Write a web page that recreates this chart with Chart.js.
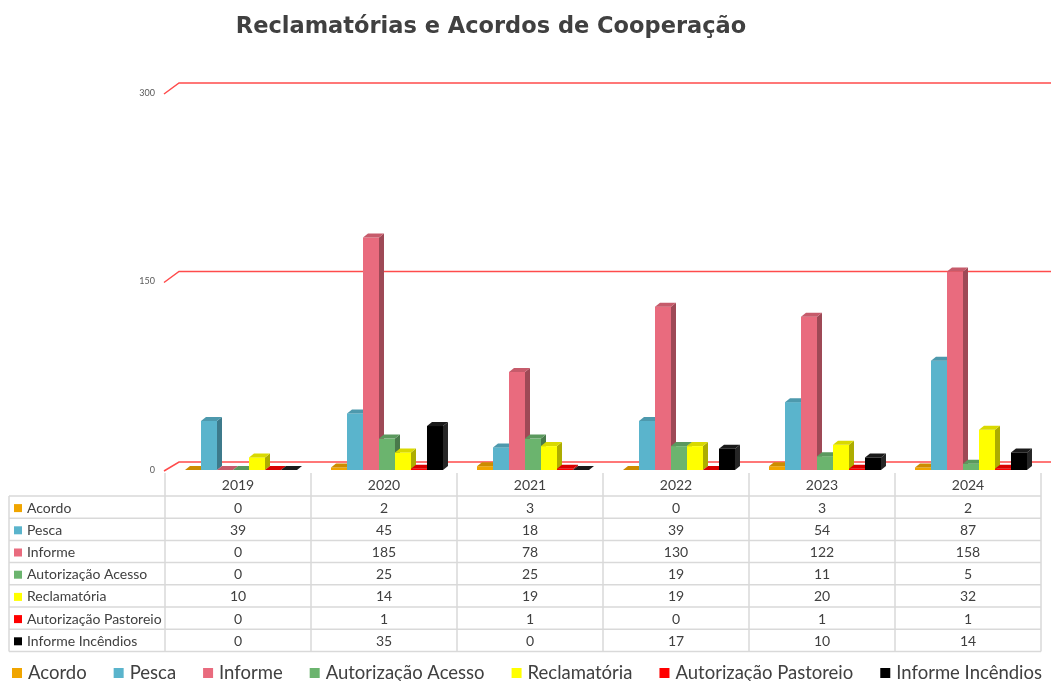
<!DOCTYPE html>
<html>
<head>
<meta charset="utf-8">
<script src="https://cdn.jsdelivr.net/npm/chart.js@4.4.1/dist/chart.umd.min.js"></script>
<style>
  html, body { margin: 0; padding: 0; background: #fff; }
</style>
</head>
<body>
<canvas id="chart" width="1051" height="681"></canvas>
<script>
const years = ['2019', '2020', '2021', '2022', '2023', '2024'];

const acordo = [0, 2, 3, 0, 3, 2];
const pesca = [39, 45, 18, 39, 54, 87];
const informe = [0, 185, 78, 130, 122, 158];
const autorizacaoAcesso = [0, 25, 25, 19, 11, 5];
const reclamatoria = [10, 14, 19, 19, 20, 32];
const autorizacaoPastoreio = [0, 1, 1, 0, 1, 1];
const informeIncendios = [0, 35, 0, 17, 10, 14];

const seriesNames = ['Acordo', 'Pesca', 'Informe', 'Autorização Acesso', 'Reclamatória', 'Autorização Pastoreio', 'Informe Incêndios'];
const seriesColors = ['#F0A500', '#5AB4CC', '#E96B7E', '#6BB46E', '#FFFF00', '#FF0000', '#000000'];
const yTicks = [0, 150, 300];

const allSeries = [acordo, pesca, informe, autorizacaoAcesso, reclamatoria, autorizacaoPastoreio, informeIncendios];

const TEXT = '#404040';
const FONT = 'Lato, "Open Sans", sans-serif';

// darken a hex colour by factor f
const shade = (hex, f) => {
    const n = parseInt(hex.slice(1), 16);
    const r = Math.round(((n >> 16) & 255) * f);
    const g = Math.round(((n >> 8) & 255) * f);
    const b = Math.round((n & 255) * f);
    return `rgb(${r},${g},${b})`;
};

// red grid lines on the back wall, with the little diagonal to the label
const wallGrid = {
    id: 'wallGrid',
    beforeDatasetsDraw(chart) {
        const {ctx, scales: {y}} = chart;
        ctx.save();
        ctx.strokeStyle = '#FF4B4B';
        ctx.lineWidth = 1.5;
        yTicks.forEach(v => {
            const yp = y.getPixelForValue(v);
            const back = v === 0 ? 8 : 10;
            ctx.beginPath();
            ctx.moveTo(164, yp + 1);
            ctx.lineTo(179, yp - back);
            ctx.lineTo(chart.width, yp - back);
            ctx.stroke();
        });
        ctx.restore();
    }
};

// fake 3D boxes for every bar, drawn in series order so the right one covers the side of the left one
const bars3d = {
    id: 'bars3d',
    afterDatasetsDraw(chart) {
        const ctx = chart.ctx;
        const dx = 5, dy = -4, shift = 3;
        ctx.save();
        chart.data.datasets.forEach((ds, i) => {
            const meta = chart.getDatasetMeta(i);
            const col = seriesColors[i];
            const side = i === 6 ? '#262626' : shade(col, 0.68);
            const top = i === 6 ? '#1a1a1a' : shade(col, 0.85);
            meta.data.forEach(bar => {
                const x0 = bar.x - bar.width / 2 + shift;
                const x1 = bar.x + bar.width / 2 + shift;
                const yt = bar.y;
                const yb = bar.base;
                ctx.fillStyle = col;
                ctx.fillRect(x0, yt, x1 - x0, yb - yt);
                ctx.fillStyle = side;
                ctx.beginPath();
                ctx.moveTo(x1, yt);
                ctx.lineTo(x1 + dx, yt + dy);
                ctx.lineTo(x1 + dx, yb + dy);
                ctx.lineTo(x1, yb);
                ctx.closePath();
                ctx.fill();
                ctx.fillStyle = top;
                ctx.beginPath();
                ctx.moveTo(x0, yt);
                ctx.lineTo(x0 + dx, yt + dy);
                ctx.lineTo(x1 + dx, yt + dy);
                ctx.lineTo(x1, yt);
                ctx.closePath();
                ctx.fill();
            });
        });
        ctx.restore();
    }
};

// title, data table and legend
const extras = {
    id: 'extras',
    afterDraw(chart) {
        const {ctx, scales: {x}} = chart;
        ctx.save();

        ctx.fillStyle = TEXT;
        ctx.font = 'bold 22.5px "DejaVu Sans", Verdana, sans-serif';
        ctx.textAlign = 'center';
        ctx.textBaseline = 'middle';
        ctx.fillText('Reclamatórias e Acordos de Cooperação', 491, 27);

        // table
        const catW = (x.right - x.left) / years.length;
        const headTop = 473, rowTop = 496, rowH = 22.2;
        const tableLeft = 9;
        const bottom = rowTop + rowH * allSeries.length;
        ctx.strokeStyle = '#D9D9D9';
        ctx.lineWidth = 1.5;
        ctx.beginPath();
        for (let c = 0; c <= years.length; c++) {
            const cx = x.left + c * catW;
            ctx.moveTo(cx, headTop);
            ctx.lineTo(cx, bottom);
        }
        ctx.moveTo(tableLeft, rowTop);
        ctx.lineTo(tableLeft, bottom);
        for (let r = 0; r <= allSeries.length; r++) {
            const ry = rowTop + r * rowH;
            ctx.moveTo(tableLeft, ry);
            ctx.lineTo(x.right, ry);
        }
        ctx.stroke();

        ctx.font = '14px ' + FONT;
        ctx.fillStyle = TEXT;
        ctx.textAlign = 'center';
        years.forEach((yr, c) => {
            ctx.fillText(yr, x.getPixelForValue(c), (headTop + rowTop) / 2 + 1);
        });
        allSeries.forEach((vals, r) => {
            const cy = rowTop + r * rowH + rowH / 2 + 1;
            ctx.fillStyle = seriesColors[r];
            ctx.fillRect(14, cy - 4, 8, 8);
            ctx.fillStyle = TEXT;
            ctx.textAlign = 'left';
            ctx.fillText(seriesNames[r], 27, cy);
            ctx.textAlign = 'center';
            vals.forEach((v, c) => {
                ctx.fillText(String(v), x.getPixelForValue(c), cy);
            });
        });

        // legend
        ctx.font = '18.5px ' + FONT;
        ctx.textAlign = 'left';
        let lx = 12;
        const ly = 672, gap = 27;
        seriesNames.forEach((name, i) => {
            ctx.fillStyle = seriesColors[i];
            ctx.fillRect(lx, ly - 4, 10, 10);
            ctx.fillStyle = TEXT;
            ctx.fillText(name, lx + 16, ly + 1);
            lx += 16 + ctx.measureText(name).width + gap;
        });

        ctx.restore();
    }
};

const ctx = document.getElementById('chart').getContext('2d');
const myChart = new Chart(ctx, {
    type: 'bar',
    data: {
        labels: years,
        datasets: allSeries.map((vals, i) => ({
            label: seriesNames[i],
            data: vals,
            backgroundColor: 'rgba(0,0,0,0)',
            borderWidth: 0,
            categoryPercentage: 0.767,
            barPercentage: 1
        }))
    },
    options: {
        responsive: false,
        animation: false,
        layout: {
            padding: {top: 93, right: 10, left: 0, bottom: 0}
        },
        plugins: {
            legend: {display: false},
            title: {display: false},
            tooltip: {enabled: false}
        },
        scales: {
            x: {
                grid: {display: false},
                border: {display: false},
                ticks: {display: false},
                afterFit: (s) => { s.height = 211; }
            },
            y: {
                min: 0,
                max: 300,
                grid: {display: false, drawTicks: false},
                border: {display: false},
                ticks: {
                    stepSize: 150,
                    padding: 10,
                    color: '#595959',
                    font: {size: 9, family: FONT}
                },
                afterFit: (s) => { s.width = 165; }
            }
        }
    },
    plugins: [wallGrid, bars3d, extras]
});
</script>
</body>
</html>
